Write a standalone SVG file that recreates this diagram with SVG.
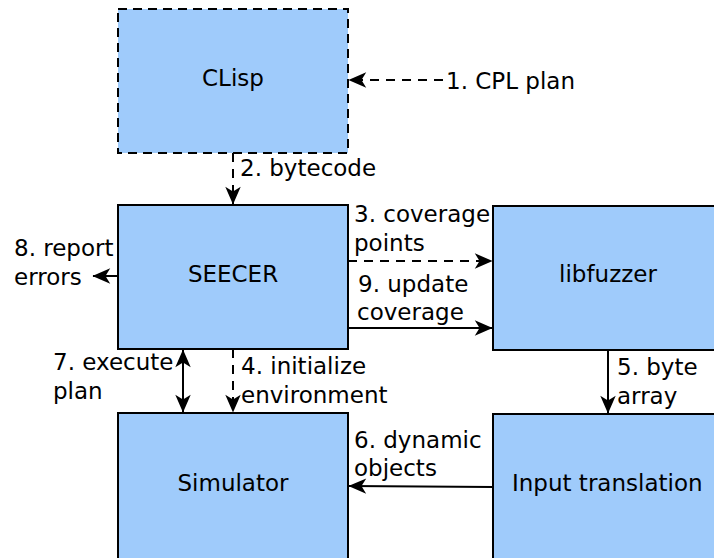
<svg xmlns="http://www.w3.org/2000/svg" width="714" height="558" viewBox="0 0 714 558">
  <style>
    .box { fill: #9fcbfb; stroke: #000; stroke-width: 2; }
    .dashbox { stroke-dasharray: 9 6; }
    .lbl { font-family: "DejaVu Sans", "Liberation Sans", sans-serif; font-size: 23px; fill: #000; }
    .mid { text-anchor: middle; }
    .edge { fill: none; stroke: #000; stroke-width: 2; }
    .dash { stroke-dasharray: 9 7; }
  </style>
  <defs>
    <marker id="arrow" viewBox="0 0 16 16" refX="15.5" refY="8" markerWidth="19" markerHeight="19" markerUnits="userSpaceOnUse" orient="auto-start-reverse">
      <path d="M1,1.5 L16,8 L1,14.5 L5,8 z" fill="#000"/>
    </marker>
  </defs>

  <rect x="0" y="0" width="714" height="558" fill="#fff"/>

  <g id="clisp">
    <rect class="box dashbox" x="118" y="9" width="230" height="144"/>
    <text class="lbl mid" x="233" y="86">CLisp</text>
  </g>
  <g id="seecer">
    <rect class="box" x="118" y="205" width="230" height="144"/>
    <text class="lbl mid" x="233" y="282">SEECER</text>
  </g>
  <g id="libfuzzer">
    <rect class="box" x="493" y="206" width="230" height="144"/>
    <text class="lbl mid" x="608" y="282">libfuzzer</text>
  </g>
  <g id="simulator">
    <rect class="box" x="118" y="413" width="230" height="150"/>
    <text class="lbl mid" x="233" y="491">Simulator</text>
  </g>
  <g id="input-translation">
    <rect class="box" x="493" y="414" width="230" height="150"/>
    <text class="lbl" x="512" y="491">Input translation</text>
  </g>

  <g id="connectors">
    <!-- 1. CPL plan -->
    <line class="edge dash" x1="443" y1="80" x2="349" y2="80" marker-end="url(#arrow)"/>
    <text class="lbl" x="446" y="89">1. CPL plan</text>
    <!-- 2. bytecode -->
    <line class="edge dash" x1="233" y1="153" x2="233" y2="204" marker-end="url(#arrow)"/>
    <text class="lbl" x="240" y="176">2. bytecode</text>
    <!-- 3. coverage points -->
    <line class="edge dash" x1="348" y1="261" x2="492" y2="261" marker-end="url(#arrow)"/>
    <text class="lbl" x="354" y="222">3. coverage</text>
    <text class="lbl" x="354" y="251">points</text>
    <!-- 9. update coverage -->
    <line class="edge" x1="348" y1="328" x2="492" y2="328" marker-end="url(#arrow)"/>
    <text class="lbl" x="358" y="292">9. update</text>
    <text class="lbl" x="357" y="320">coverage</text>
    <!-- 8. report errors -->
    <line class="edge" x1="118" y1="276" x2="93" y2="276" marker-end="url(#arrow)"/>
    <text class="lbl" x="14" y="256">8. report</text>
    <text class="lbl" x="14" y="285">errors</text>
    <!-- 7. execute plan -->
    <line class="edge" x1="183" y1="350" x2="183" y2="412" marker-start="url(#arrow)" marker-end="url(#arrow)"/>
    <text class="lbl" x="53" y="370">7. execute</text>
    <text class="lbl" x="53" y="399">plan</text>
    <!-- 4. initialize environment -->
    <line class="edge dash" x1="233" y1="349" x2="233" y2="412" marker-end="url(#arrow)"/>
    <text class="lbl" x="241" y="374">4. initialize</text>
    <text class="lbl" x="241" y="403">environment</text>
    <!-- 5. byte array -->
    <line class="edge" x1="608" y1="350" x2="608" y2="413" marker-end="url(#arrow)"/>
    <text class="lbl" x="617" y="375">5. byte</text>
    <text class="lbl" x="617" y="404">array</text>
    <!-- 6. dynamic objects -->
    <line class="edge" x1="493" y1="487" x2="349" y2="486" marker-end="url(#arrow)"/>
    <text class="lbl" x="354" y="448">6. dynamic</text>
    <text class="lbl" x="354" y="476">objects</text>
  </g>
</svg>
